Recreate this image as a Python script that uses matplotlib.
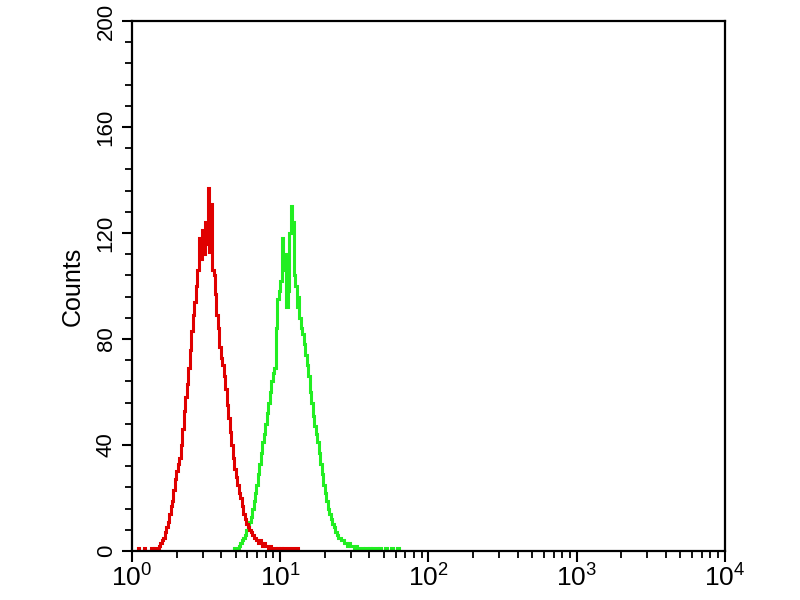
import matplotlib
matplotlib.use("Agg")
import matplotlib.pyplot as plt
import numpy as np
from matplotlib.ticker import LogLocator, MultipleLocator

plt.rcParams['font.family'] = ['Liberation Sans', 'DejaVu Sans']
plt.rcParams['mathtext.fontset'] = 'custom'
plt.rcParams['mathtext.rm'] = 'Liberation Sans'
plt.rcParams['mathtext.default'] = 'regular'

# histogram channels: log10 of fluorescence, step 0.01 decade
red_start = 0.02
red_counts = [
    0, 0, 1, 0, 0, 0, 1, 0,
    0, 0, 0, 1, 0, 1, 1, 1, 2, 3,
    4, 5, 7, 9, 11, 14, 17, 19, 23, 27,
    30, 33, 35, 40, 46, 53, 58, 63, 69, 76,
    83, 89, 94, 100, 106, 118, 110, 121, 112, 124,
    116, 137, 113, 131, 106, 104, 97, 89, 84, 77,
    73, 70, 66, 61, 55, 50, 45, 40, 35, 31,
    28, 25, 22, 20, 17, 14, 12, 10, 9, 8,
    7, 6, 5, 5, 4, 3, 4, 3, 2, 3,
    2, 2, 1, 2, 1, 1, 1, 0, 1, 0,
    1, 0, 1, 0, 0, 1, 0, 0, 1, 0, 0, 1, 0,
]

green_start = 0.66
green_counts = [
    0, 0, 0, 1,
    1, 1, 2, 3, 4, 5, 6, 8, 9, 11,
    13, 16, 19, 22, 25, 29, 33, 37, 41, 44,
    48, 52, 56, 60, 64, 67, 69, 84, 95, 98,
    102, 118, 106, 112, 92, 98, 120, 130, 124, 104,
    100, 92, 96, 88, 84, 82, 78, 74, 70, 66,
    60, 56, 51, 47, 44, 41, 37, 33, 29, 25,
    22, 19, 16, 14, 12, 10, 9, 7, 6, 5,
    5, 4, 4, 3, 3, 2, 3, 2, 2, 2,
    1, 2, 1, 1, 1, 1, 0, 1, 1, 0,
    1, 0, 1, 0, 0, 1, 0, 1, 0, 0,
    0, 1, 0, 0, 0, 1, 0, 0, 0, 1, 0, 0,
]

step = 0.01
x_ticks = [1, 10, 100, 1000, 10000]
y_ticks = [0, 40, 80, 120, 160, 200]

fig = plt.figure(figsize=(8, 6), dpi=100)
ax = fig.add_axes([0.165, 0.0817, 0.741, 0.8833])

red_edges = 10 ** (red_start + step * np.arange(len(red_counts) + 1))
green_edges = 10 ** (green_start + step * np.arange(len(green_counts) + 1))

ax.stairs(green_counts, green_edges, color='#22ee22', lw=2.2)
ax.stairs(red_counts, red_edges, color='#e00000', lw=2.2)

ax.set_xscale('log')
ax.set_xlim(1, 10000)
ax.set_ylim(0, 200)
ax.set_xticks(x_ticks)
ax.xaxis.set_minor_locator(LogLocator(base=10, subs=np.arange(2, 10)))
ax.set_yticks(y_ticks)
ax.yaxis.set_minor_locator(MultipleLocator(8))

for s in ax.spines.values():
    s.set_linewidth(1.6)

ax.tick_params(axis='x', which='major', length=8, width=1.5, labelsize=19, pad=2)
ax.tick_params(axis='x', which='minor', length=5, width=1.3)
ax.tick_params(axis='y', which='major', length=7, width=1.5, labelsize=16, pad=4)
ax.tick_params(axis='y', which='minor', length=5, width=1.3)
for lab in ax.get_yticklabels():
    lab.set_rotation(90)
    lab.set_va('center')

ax.set_ylabel('Counts', fontsize=18, labelpad=8)

fig.savefig('out.png', dpi=100)
